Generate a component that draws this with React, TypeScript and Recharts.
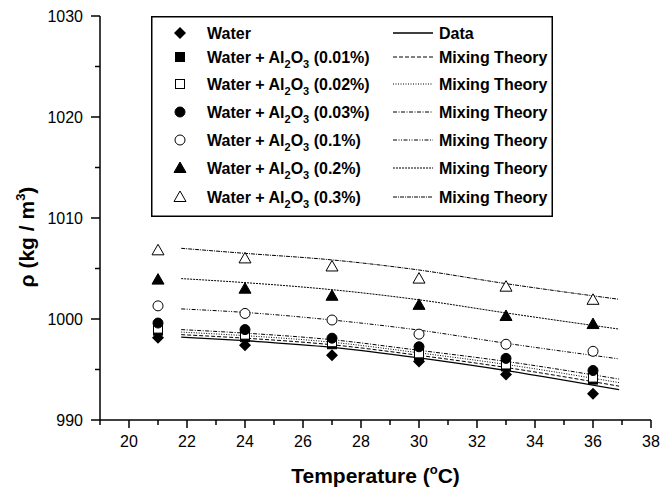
import React from 'react';
import { ComposedChart, Line, Scatter, XAxis, YAxis, Legend, Label } from 'recharts';

// measured temperatures (°C)
const temps = [21, 24, 27, 30, 33, 36];

// measured densities (kg/m3)
const water = [998.15, 997.4, 996.4, 995.8, 994.5, 992.6];
const al001 = [998.85, 998.2, 997.5, 996.4, 995.3, 994.0];
const al002 = [999.05, 998.45, 997.7, 996.6, 995.5, 994.2];
const al003 = [999.6, 998.95, 998.1, 997.25, 996.1, 994.9];
const al01 = [1001.3, 1000.55, 999.9, 998.5, 997.5, 996.8];
const al02 = [1003.9, 1003.0, 1002.3, 1001.4, 1000.3, 999.5];
const al03 = [1006.8, 1006.0, 1005.2, 1004.0, 1003.2, 1001.9];

// curves
const lineTemps = [21.8, 24, 27, 30, 33, 36.9];
const dataLine = [998.2, 997.85, 997.2, 996.15, 994.9, 993.0];
const mix001 = [998.45, 998.1, 997.45, 996.4, 995.2, 993.35];
const mix002 = [998.7, 998.35, 997.7, 996.65, 995.5, 993.7];
const mix003 = [998.95, 998.6, 997.95, 996.9, 995.8, 994.05];
const mix01 = [1001.0, 1000.65, 999.9, 998.9, 997.6, 996.05];
const mix02 = [1004.0, 1003.6, 1002.9, 1001.9, 1000.6, 999.0];
const mix03 = [1007.0, 1006.5, 1005.85, 1004.85, 1003.5, 1001.95];

const concentrations = ['0.01%', '0.02%', '0.03%', '0.1%', '0.2%', '0.3%'];

const xTicks = [19, 20, 21, 22, 23, 24, 25, 26, 27, 28, 29, 30, 31, 32, 33, 34, 35, 36, 37, 38];
const yTicks = [990, 995, 1000, 1005, 1010, 1015, 1020, 1025, 1030];

const FONT = '"Liberation Sans", Arial, Helvetica, sans-serif';

const toPoints = (xs: number[], ys: number[]) => xs.map((x, i) => ({ x, y: ys[i] }));

type Kind = 'diamond' | 'square' | 'circle' | 'triangle';

function Marker({ kind, filled, cx, cy }: { kind: Kind; filled: boolean; cx: number; cy: number }) {
  const fill = filled ? '#000' : '#fff';
  if (kind === 'diamond') {
    return <polygon points={`${cx},${cy - 6} ${cx + 6},${cy} ${cx},${cy + 6} ${cx - 6},${cy}`} fill="#000" />;
  }
  if (kind === 'square') {
    return <rect x={cx - 4.5} y={cy - 4.5} width={9} height={9} fill={fill} stroke="#000" strokeWidth={1} />;
  }
  if (kind === 'circle') {
    return <circle cx={cx} cy={cy} r={5} fill={fill} stroke="#000" strokeWidth={1} />;
  }
  return (
    <polygon
      points={`${cx},${cy - 6} ${cx + 6},${cy + 4.5} ${cx - 6},${cy + 4.5}`}
      fill={fill}
      stroke="#000"
      strokeWidth={1}
    />
  );
}

const markers: { kind: Kind; filled: boolean; values: number[] }[] = [
  { kind: 'diamond', filled: true, values: water },
  { kind: 'square', filled: true, values: al001 },
  { kind: 'square', filled: false, values: al002 },
  { kind: 'circle', filled: true, values: al003 },
  { kind: 'circle', filled: false, values: al01 },
  { kind: 'triangle', filled: true, values: al02 },
  { kind: 'triangle', filled: false, values: al03 },
];

const curves = [
  { values: dataLine, dash: undefined, width: 1.3 },
  { values: mix001, dash: '4 2', width: 1 },
  { values: mix002, dash: '1 1.5', width: 1 },
  { values: mix003, dash: '4 1.5 1 1.5', width: 1 },
  { values: mix01, dash: '4 1.5 1 1.5 1 1.5', width: 1 },
  { values: mix02, dash: '2 1', width: 1 },
  { values: mix03, dash: '4 1 1 1', width: 1 },
];

const XTick = (props: any) => {
  const { x, y, payload } = props;
  const major = payload.value % 2 === 0;
  return (
    <g>
      <line x1={x} x2={x} y1={y} y2={y + (major ? 8 : 5)} stroke="#000" strokeWidth={1.5} />
      {major && (
        <text x={x} y={y + 27} textAnchor="middle" fontSize={16} fontFamily={FONT} fill="#000">
          {payload.value}
        </text>
      )}
    </g>
  );
};

const YTick = (props: any) => {
  const { x, y, payload } = props;
  const major = payload.value % 10 === 0;
  return (
    <g>
      <line x1={x - (major ? 9 : 5)} x2={x} y1={y} y2={y} stroke="#000" strokeWidth={1.5} />
      {major && (
        <text x={x - 17} y={y + 6} textAnchor="end" fontSize={16} fontFamily={FONT} fill="#000">
          {payload.value}
        </text>
      )}
    </g>
  );
};

const rowY = [17, 41, 68, 96, 124, 152, 181];

const renderLegend = () => (
  <svg width={402} height={201} style={{ display: 'block' }}>
    <rect x={0.75} y={0.75} width={400.5} height={199.5} fill="#fff" stroke="#000" strokeWidth={1.5} />
    {markers.map((m, i) => {
      const cy = rowY[i];
      return (
        <g key={i}>
          <Marker kind={m.kind} filled={m.filled} cx={29} cy={cy} />
          <text
            x={56}
            y={cy + 6}
            fontSize={16}
            fontWeight="bold"
            fontFamily={FONT}
            fill="#000"
            style={{ whiteSpace: 'pre' }}
          >
            {i === 0 ? (
              'Water'
            ) : (
              <>
                <tspan>Water + Al</tspan>
                <tspan dy={5} fontSize={11}>2</tspan>
                <tspan dy={-5}>O</tspan>
                <tspan dy={5} fontSize={11}>3</tspan>
                <tspan dy={-5}>{` (${concentrations[i - 1]})`}</tspan>
              </>
            )}
          </text>
          <line
            x1={242}
            x2={282}
            y1={cy}
            y2={cy}
            stroke="#000"
            strokeWidth={curves[i].width}
            strokeDasharray={curves[i].dash}
          />
          <text x={288} y={cy + 6} fontSize={16} fontWeight="bold" fontFamily={FONT} fill="#000">
            {i === 0 ? 'Data' : 'Mixing Theory'}
          </text>
        </g>
      );
    })}
  </svg>
);

export default function App() {
  return (
    <div style={{ position: 'absolute', left: 0, top: 0, background: '#fff' }}>
      <ComposedChart width={660} height={491} margin={{ top: 16, right: 9, bottom: 0, left: 0 }}>
        <XAxis
          type="number"
          dataKey="x"
          domain={[19, 38]}
          ticks={xTicks}
          interval={0}
          height={71}
          tickSize={0}
          tickMargin={0}
          tickLine={false}
          axisLine={{ stroke: '#000', strokeWidth: 1.5 }}
          tick={(p: any) => <XTick {...p} />}
          allowDataOverflow
        >
          <Label
            content={(p: any) => {
              const vb = p.viewBox;
              return (
                <text
                  x={vb.x + vb.width / 2}
                  y={483}
                  textAnchor="middle"
                  fontSize={21}
                  fontWeight="bold"
                  fontFamily={FONT}
                  fill="#000"
                  style={{ whiteSpace: 'pre' }}
                >
                  <tspan>Temperature (</tspan>
                  <tspan dy={-9} fontSize={13}>o</tspan>
                  <tspan dy={9}>C)</tspan>
                </text>
              );
            }}
          />
        </XAxis>
        <YAxis
          type="number"
          dataKey="y"
          domain={[990, 1030]}
          ticks={yTicks}
          interval={0}
          width={100}
          tickSize={0}
          tickMargin={0}
          tickLine={false}
          axisLine={{ stroke: '#000', strokeWidth: 1.5 }}
          tick={(p: any) => <YTick {...p} />}
          allowDataOverflow
        >
          <Label
            content={() => (
              <text
                x={0}
                y={0}
                transform="translate(34, 237) rotate(-90)"
                textAnchor="middle"
                fontSize={21}
                fontWeight="bold"
                fontFamily={FONT}
                fill="#000"
                style={{ whiteSpace: 'pre' }}
              >
                <tspan>ρ (kg / m</tspan>
                <tspan dy={-9} fontSize={13}>3</tspan>
                <tspan dy={9}>)</tspan>
              </text>
            )}
          />
        </YAxis>
        {curves.map((c, i) => (
          <Line
            key={`line-${i}`}
            data={toPoints(lineTemps, c.values)}
            dataKey="y"
            type="monotone"
            stroke="#000"
            strokeWidth={c.width}
            strokeDasharray={c.dash}
            dot={false}
            activeDot={false}
            legendType="none"
            isAnimationActive={false}
          />
        ))}
        {markers.map((m, i) => (
          <Scatter
            key={`sc-${i}`}
            data={toPoints(temps, m.values)}
            dataKey="y"
            shape={(p: any) => <Marker kind={m.kind} filled={m.filled} cx={p.cx} cy={p.cy} />}
            legendType="none"
            isAnimationActive={false}
          />
        ))}
        <Legend
          layout="vertical"
          align="center"
          verticalAlign="middle"
          wrapperStyle={{ left: 151, top: 16, width: 402, height: 201 }}
          content={renderLegend}
        />
      </ComposedChart>
    </div>
  );
}
